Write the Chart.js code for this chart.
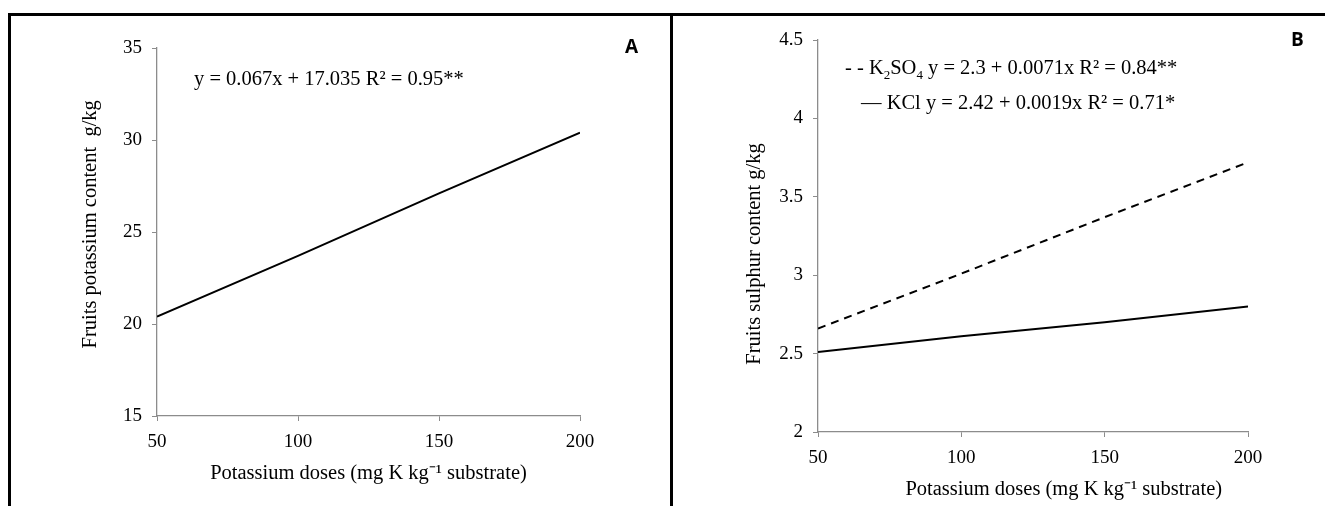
<!DOCTYPE html>
<html>
<head>
<meta charset="utf-8">
<script src="https://cdn.jsdelivr.net/npm/chart.js@4/dist/chart.umd.min.js"></script>
<style>
  body { margin: 0; background: #fff; width: 1325px; height: 506px; overflow: hidden; position: relative; }
  .frame { position: absolute; left: 8px; top: 13px; width: 1317px; height: 493px; border-top: 3px solid #000; border-left: 3px solid #000; box-sizing: border-box; }
  .divider { position: absolute; left: 670px; top: 13px; width: 3px; height: 493px; background: #000; }
  .box { position: absolute; }
  .note { position: absolute; font-family: "Liberation Serif", serif; font-size: 20.5px; line-height: 22px; white-space: nowrap; color: #000; }
  .tag { position: absolute; font-family: "Open Sans", "Liberation Sans", sans-serif; font-weight: bold; font-size: 19px; line-height: 22px; }
</style>
</head>
<body>
<div class="frame"></div>
<div class="divider"></div>

<div class="box" style="left:11px; top:16px; width:659px; height:490px;">
  <canvas id="chartA" width="659" height="490"></canvas>
</div>
<div class="box" style="left:673px; top:16px; width:652px; height:490px;">
  <canvas id="chartB" width="652" height="490"></canvas>
</div>

<div class="note" style="left:194px; top:67px;">y = 0.067x + 17.035 R² = 0.95**</div>
<div class="note" style="left:845px; top:56px;">- - K<sub style="font-size:13px">2</sub>SO<sub style="font-size:13px">4</sub> y = 2.3 + 0.0071x R² = 0.84**</div>
<div class="note" style="left:861px; top:91px;">— KCl y = 2.42 + 0.0019x R² = 0.71*</div>
<div class="tag" style="left:625px; top:35px;">A</div>
<div class="tag" style="left:1291px; top:28px;">B</div>

<script>
// potassium doses (x axis)
const doses = [50, 100, 150, 200];
// panel A: fruits potassium content (g/kg)
const potassium = [20.4, 23.7, 27.1, 30.4];
// panel B: fruits sulphur content (g/kg)
const sulphurK2SO4 = [2.66, 3.01, 3.37, 3.72];
const sulphurKCl = [2.51, 2.61, 2.70, 2.80];

const xTicks = [50, 100, 150, 200];
const yTicksA = [15, 20, 25, 30, 35];
const yTicksB = [2, 2.5, 3, 3.5, 4, 4.5];

const axisGray = '#8c8c8c';
const family = '"Liberation Serif", "Times New Roman", serif';
const tickFont = { family: family, size: 19 };
const titleFont = { family: family, size: 20.5 };
const xTitle = 'Potassium doses (mg K kg⁻¹ substrate)';

function pts(ys) {
  return doses.map((x, i) => ({ x: x, y: ys[i] }));
}

function makeScales(yTicks, xTitleText, yTitle, yWidth, xHeight, xTitlePad, yTitlePad) {
  return {
    x: {
      type: 'linear',
      min: xTicks[0],
      max: xTicks[xTicks.length - 1],
      afterBuildTicks: s => { s.ticks = xTicks.map(v => ({ value: v })); },
      afterFit: s => { s.height = xHeight; },
      grid: { display: true, drawOnChartArea: false, drawTicks: true, tickLength: 5, color: axisGray },
      border: { color: axisGray, width: 1.3 },
      ticks: { color: '#000', font: tickFont, padding: 10, maxRotation: 0, callback: v => String(v) },
      title: {
        display: true,
        text: xTitleText,
        color: '#000',
        font: titleFont,
        padding: { top: 0, bottom: xTitlePad }
      }
    },
    y: {
      type: 'linear',
      min: yTicks[0],
      max: yTicks[yTicks.length - 1],
      afterBuildTicks: s => { s.ticks = yTicks.map(v => ({ value: v })); },
      afterFit: s => { s.width = yWidth; },
      grid: { display: true, drawOnChartArea: false, drawTicks: true, tickLength: 5, color: axisGray },
      border: { color: axisGray, width: 1.3 },
      ticks: { color: '#000', font: tickFont, padding: 10, callback: v => String(v) },
      title: {
        display: true,
        text: yTitle,
        color: '#000',
        font: titleFont,
        padding: { top: yTitlePad, bottom: 0 }
      }
    }
  };
}

const common = {
  responsive: false,
  animation: false,
  plugins: { legend: { display: false }, tooltip: { enabled: false } },
  elements: { point: { radius: 0 }, line: { tension: 0 } }
};

new Chart(document.getElementById('chartA'), {
  type: 'line',
  data: {
    datasets: [{
      label: 'Potassium',
      data: pts(potassium),
      borderColor: '#000',
      borderWidth: 2
    }]
  },
  options: Object.assign({}, common, {
    layout: { padding: { left: 0, right: 90, top: 32, bottom: 0 } },
    // leading spaces nudge the rotated title up a little, as in the original
    scales: makeScales(yTicksA, xTitle, '   Fruits potassium content  g/kg', 146, 90, 20, 67)
  })
});

new Chart(document.getElementById('chartB'), {
  type: 'line',
  data: {
    datasets: [{
      label: 'K2SO4',
      data: pts(sulphurK2SO4),
      borderColor: '#000',
      borderWidth: 2,
      borderDash: [8, 6]
    }, {
      label: 'KCl',
      data: pts(sulphurKCl),
      borderColor: '#000',
      borderWidth: 2
    }]
  },
  options: Object.assign({}, common, {
    layout: { padding: { left: 0, right: 77, top: 24, bottom: 0 } },
    // padding spaces shift both titles off-centre, as in the original
    scales: makeScales(yTicksB, '            ' + xTitle, 'Fruits sulphur content g/kg       ', 145, 74, 4, 69)
  })
});
</script>
</body>
</html>
